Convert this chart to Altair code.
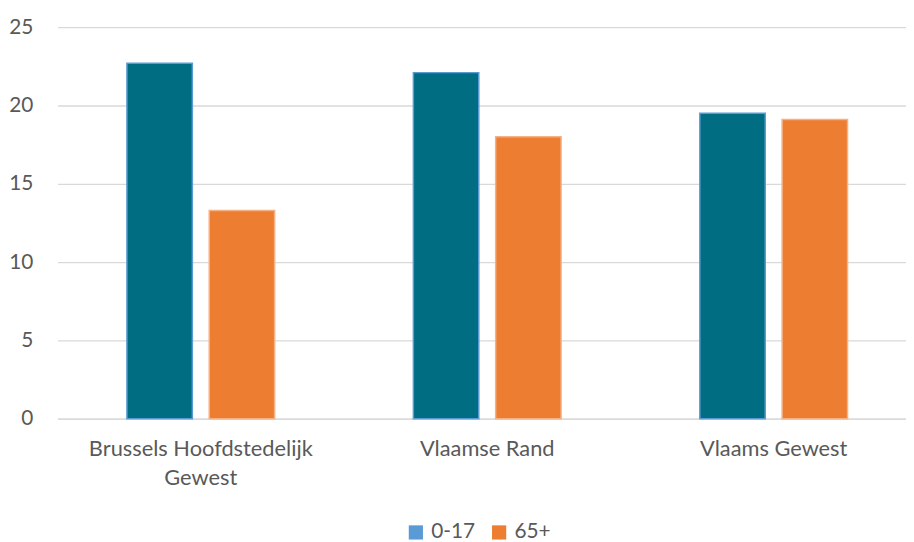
import altair as alt
import pandas as pd

regions = ["Brussels Hoofdstedelijk Gewest", "Vlaamse Rand", "Vlaams Gewest"]
groups = ["0-17", "65+"]
values_0_17 = [22.7, 22.1, 19.5]
values_65 = [13.3, 18.0, 19.1]

rows = []
for r, a, b in zip(regions, values_0_17, values_65):
    rows.append({"regio": r, "groep": "0-17", "waarde": a})
    rows.append({"regio": r, "groep": "65+", "waarde": b})
df = pd.DataFrame(rows)

FONT = "Lato"
GREY = "#595959"

x_enc = alt.X(
    "regio:N",
    sort=regions,
    scale=alt.Scale(range=[1, 868], paddingInner=0, paddingOuter=0),
    axis=alt.Axis(
        title=None,
        labelAngle=0,
        labelFont=FONT,
        labelFontSize=22,
        labelColor=GREY,
        labelPadding=20,
        labelLineHeight=29,
        labelLimit=0,
        labelExpr="datum.label == 'Brussels Hoofdstedelijk Gewest' ? ['Brussels Hoofdstedelijk', 'Gewest'] : datum.label",
        ticks=False,
        domain=True,
        domainColor="#D9D9D9",
        domainWidth=1.3,
        grid=False,
    ),
)
xoff_enc = alt.XOffset(
    "groep:N", sort=groups, scale=alt.Scale(paddingInner=0.205, paddingOuter=0.843)
)
y_enc = alt.Y(
    "waarde:Q",
    scale=alt.Scale(domain=[0, 25], nice=False),
    axis=alt.Axis(
        title=None,
        values=[0, 5, 10, 15, 20, 25],
        labelFont=FONT,
        labelFontSize=21,
        labelColor=GREY,
        labelPadding=24,
        ticks=False,
        domain=False,
        grid=True,
        gridColor="#D9D9D9",
        gridWidth=1.3,
    ),
)

bars = alt.Chart(df).mark_bar(strokeWidth=1.5).encode(
    x=x_enc,
    xOffset=xoff_enc,
    y=y_enc,
    fill=alt.Fill("groep:N", sort=groups,
                  scale=alt.Scale(domain=groups, range=["#006D82", "#ED7D31"]),
                  legend=None),
    stroke=alt.Stroke("groep:N", sort=groups,
                      scale=alt.Scale(domain=groups, range=["#5B9BD5", "#F4B183"]),
                      legend=None),
)

legend_layer = alt.Chart(df).transform_calculate(
    leg="datum.groep"
).mark_point(filled=True, shape="square", size=0).encode(
    x=alt.X("regio:N", sort=regions),
    xOffset=alt.XOffset("groep:N", sort=groups),
    y=alt.Y("waarde:Q"),
    color=alt.Color(
        "leg:N",
        sort="ascending",
        scale=alt.Scale(range=["#5B9BD5", "#ED7D31"]),
        legend=alt.Legend(
            title=None,
            orient="none",
            legendX=352,
            legendY=499,
            direction="horizontal",
            symbolType="square",
            symbolSize=205,
            symbolOpacity=1,
            symbolStrokeWidth=0,
            labelFont=FONT,
            labelFontSize=21,
            labelColor=GREY,
            labelOffset=5,
            columnPadding=13,
            padding=0,
        ),
    ),
)

chart = (
    alt.layer(bars, legend_layer)
    .properties(
        width=855,
        height=395,
        autosize=alt.AutoSizeParams(type="none"),
        padding={"left": 49, "top": 17, "right": 2, "bottom": 121},
    )
    .configure_view(stroke=None)
)

chart.save("out.html", embed_options={"renderer": "svg", "actions": False})
